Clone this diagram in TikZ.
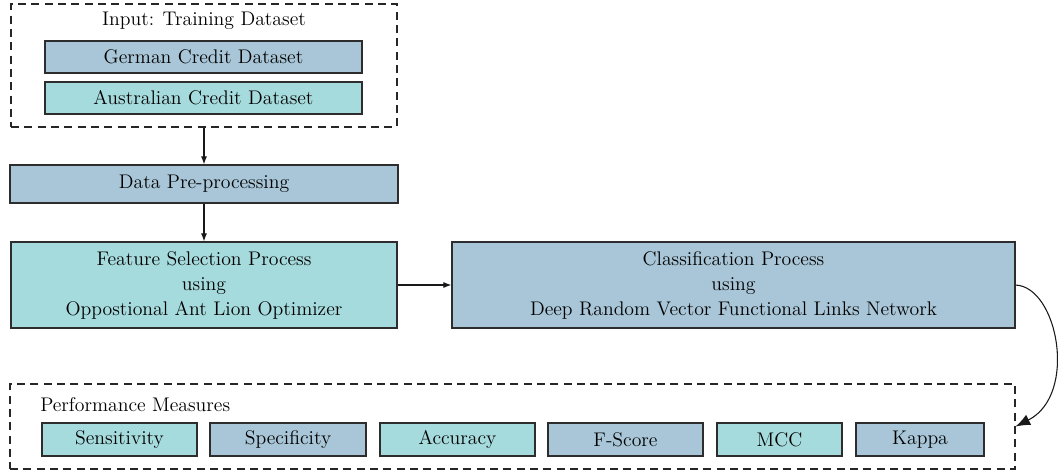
\documentclass[tikz,border=0pt]{standalone}
\usetikzlibrary{arrows.meta}
\definecolor{boxblue}{RGB}{168,198,215}
\definecolor{boxteal}{RGB}{166,219,222}
\definecolor{edge}{RGB}{45,45,45}
\begin{document}
\begin{tikzpicture}[x=0.75pt,y=-0.75pt,
  every node/.style={font=\fontsize{14.8}{18.75}\selectfont, inner sep=0pt, align=center},
  solidbox/.style={draw=edge, line width=0.9pt, rectangle},
  bluebox/.style={solidbox, fill=boxblue},
  tealbox/.style={solidbox, fill=boxteal},
  groupbox/.style={draw=black!85, line width=0.8pt, dash pattern=on 6pt off 4pt},
  smallarrow/.style={-{Latex[length=6pt,width=4.5pt]}, line width=0.8pt, draw=black!90},
  bigarrow/.style={-{Latex[length=11pt,width=8.5pt]}, line width=0.8pt, draw=black!90}]
\useasboundingbox (0,0) rectangle (1058,472);

% input group
\node[groupbox, minimum width=289.5pt, minimum height=92.25pt] (input) at (204,65.5) {};
\node (inputtitle) at (204,21) {Input: Training Dataset};
\node[bluebox, minimum width=237.75pt, minimum height=24pt] (german) at (203.5,57) {German Credit Dataset};
\node[tealbox, minimum width=237.75pt, minimum height=24pt] (austr) at (203.5,98) {Australian Credit Dataset};

% process
\node[bluebox, minimum width=291pt, minimum height=28.5pt] (pre) at (204,184) {Data Pre-processing};
\node[tealbox, minimum width=289.5pt, minimum height=64.5pt] (feat) at (204,285) {Feature Selection Process\\using\\Oppostional Ant Lion Optimizer};
\node[bluebox, minimum width=422.25pt, minimum height=64.5pt] (cls) at (733.5,285) {Classification Process\\using\\Deep Random Vector Functional Links Network};

% performance group
\node[groupbox, minimum width=753.75pt, minimum height=63.75pt] (perf) at (512.5,426.5) {};
\node[anchor=west] (perftitle) at (40,405) {Performance Measures};
\node[tealbox, minimum width=116.25pt, minimum height=24.75pt] (sens) at (119.5,439.5) {Sensitivity};
\node[bluebox, minimum width=117pt, minimum height=24.75pt] (spec) at (288,439.5) {Specificity};
\node[tealbox, minimum width=116.25pt, minimum height=24.75pt] (acc) at (457.5,439.5) {Accuracy};
\node[bluebox, minimum width=116.25pt, minimum height=24.75pt] (fs) at (625.5,439.5) {F-Score};
\node[tealbox, minimum width=93.75pt, minimum height=24.75pt] (mcc) at (779.5,439.5) {MCC};
\node[bluebox, minimum width=96pt, minimum height=24.75pt] (kappa) at (920,439.5) {Kappa};

% connectors
\draw[smallarrow] (input.south) -- (pre.north);
\draw[smallarrow] (pre.south) -- (feat.north);
\draw[smallarrow] (feat.east) -- (cls.west);
\draw[bigarrow] (cls.east) .. controls (1058,287) and (1078,395) .. (perf.east);
\end{tikzpicture}
\end{document}
